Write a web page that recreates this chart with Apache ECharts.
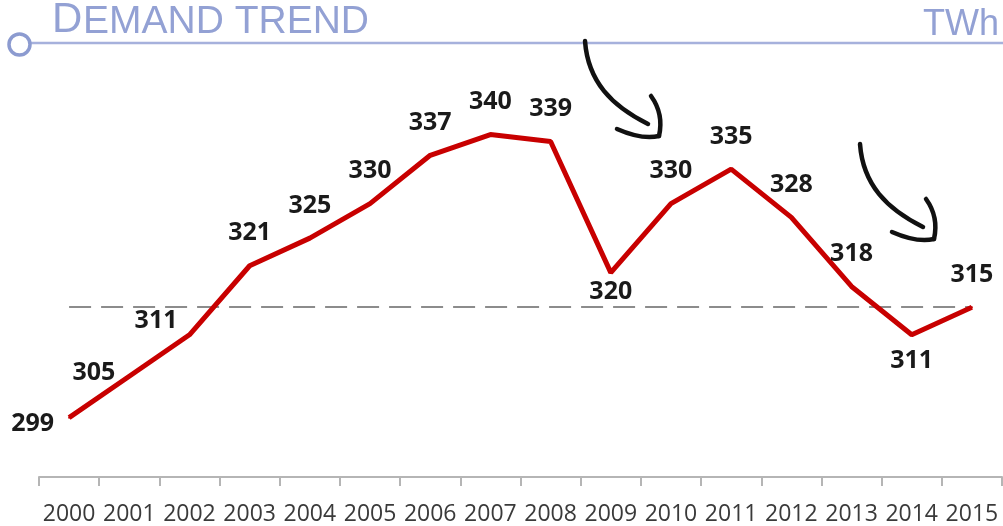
<!DOCTYPE html>
<html>
<head>
<meta charset="utf-8">
<script src="https://cdn.jsdelivr.net/npm/echarts@6/dist/echarts.min.js"></script>
<style>
  html, body {margin: 0; padding: 0; background: #fff;}
  #chart {width: 1003px; height: 526px;}
</style>
</head>
<body>
<div id="chart"></div>
<script>
var years = ['2000', '2001', '2002', '2003', '2004', '2005', '2006', '2007',
             '2008', '2009', '2010', '2011', '2012', '2013', '2014', '2015'];
var demand = [299, 305, 311, 321, 325, 330, 337, 340, 339, 320, 330, 335, 328, 318, 311, 315];
var reference_level = 315;

const title_color = '#93a1d4';
const rule_color = '#a6b1dc';
const line_color = '#c80000';

// label placement per point: most sit above, a few on the left or below
function label_for(i) {
    if (i === 0) return {position: 'left', distance: 14, offset: [0, 6]};
    if (i === 1) return {position: 'left', distance: 13, offset: [0, -3]};
    if (i === 2) return {position: 'left', distance: 11, offset: [0, -14]};
    if (i === 9) return {position: 'bottom', distance: 6};
    if (i === 14) return {position: 'bottom', distance: 13};
    return {position: 'top', distance: 19};
}

var series_data = demand.map((v, i) => ({value: v, label: label_for(i)}));

function arrow(dx, dy) {
    var style = {stroke: '#111', lineWidth: 4.5, fill: null, lineCap: 'round', lineJoin: 'round'};
    return [
        {type: 'bezierCurve', shape: {x1: 585 + dx, y1: 41 + dy, cpx1: 588 + dx, cpy1: 82 + dy, cpx2: 612 + dx, cpy2: 106 + dy, x2: 648 + dx, y2: 124 + dy}, style: style, z: 50},
        {type: 'bezierCurve', shape: {x1: 617 + dx, y1: 129 + dy, cpx1: 642 + dx, cpy1: 140 + dy, x2: 659 + dx, y2: 136 + dy}, style: style, z: 50},
        {type: 'bezierCurve', shape: {x1: 659 + dx, y1: 136 + dy, cpx1: 664 + dx, cpy1: 114 + dy, x2: 651 + dx, y2: 96 + dy}, style: style, z: 50}
    ];
}

var chart = echarts.init(document.getElementById('chart'));
chart.setOption({
    animation: false,
    grid: {left: 39, right: 1, top: 31, bottom: 46, containLabel: false},
    xAxis: {
        type: 'category',
        data: years,
        boundaryGap: true,
        axisLine: {lineStyle: {color: '#b5b5b5', width: 2}},
        axisTick: {show: true, interval: 0, length: 9, lineStyle: {color: '#b5b5b5', width: 2}},
        axisLabel: {interval: 0, margin: 26, color: '#3a3a3a', fontFamily: 'Open Sans', fontSize: 23}
    },
    yAxis: {type: 'value', min: 290.4, max: 355, show: false, splitLine: {show: false}},
    series: [{
        type: 'line',
        data: series_data,
        symbol: 'circle',
        symbolSize: 2,
        showSymbol: true,
        itemStyle: {color: line_color},
        lineStyle: {color: line_color, width: 5},
        label: {show: true, color: '#1a1a1a', fontFamily: 'Open Sans', fontWeight: 'bold', fontSize: 25},
        markLine: {
            silent: true,
            symbol: 'none',
            label: {show: false},
            lineStyle: {color: '#8c8c8c', type: [22, 10], width: 2},
            data: [[{coord: [years[0], reference_level]}, {coord: [years[years.length - 1], reference_level]}]]
        },
        z: 10
    }],
    graphic: [
        {type: 'line', shape: {x1: 31, y1: 43, x2: 1003, y2: 43}, style: {stroke: rule_color, lineWidth: 2.5}},
        {type: 'circle', shape: {cx: 19.5, cy: 44.5, r: 10.5}, style: {stroke: '#8c9bd0', lineWidth: 3.5, fill: '#fff'}},
        {type: 'text', x: 52, y: 20, style: {text: 'D', fontFamily: 'Liberation Sans', fontSize: 42, fill: title_color, verticalAlign: 'middle'}},
        {type: 'text', x: 83, y: 22, style: {text: 'EMAND TREND', fontFamily: 'Liberation Sans', fontSize: 39, fill: title_color, verticalAlign: 'middle'}},
        {type: 'text', x: 999, y: 25, style: {text: 'TWh', fontFamily: 'Liberation Sans', fontSize: 36, fill: title_color, align: 'right', verticalAlign: 'middle'}}
    ].concat(arrow(0, 0), arrow(275, 103))
});
</script>
</body>
</html>
